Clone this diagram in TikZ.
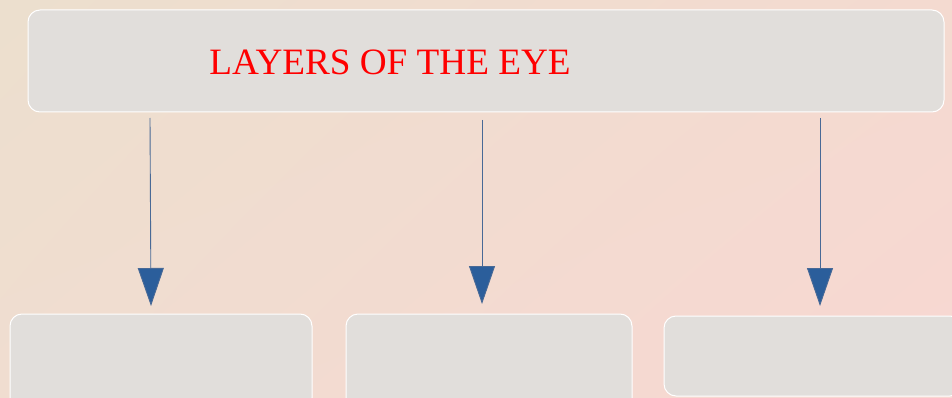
\documentclass[tikz,border=0pt]{standalone}
\usepackage{fontspec}
\setmainfont{Liberation Serif}
\usetikzlibrary{arrows.meta,shadings}
\definecolor{bgA}{RGB}{236,223,206}
\definecolor{bgB}{RGB}{244,218,208}
\definecolor{bgC}{RGB}{240,221,208}
\definecolor{bgD}{RGB}{248,215,210}
\definecolor{boxfill}{RGB}{225,222,219}
\definecolor{arrowblue}{RGB}{43,94,155}
\definecolor{linegrayblue}{RGB}{72,105,150}
\tikzset{
  panel/.style={draw=white, line width=1pt, fill=boxfill, rounded corners=12pt},
  downarrow/.style={draw=linegrayblue, line width=0.9pt, -{Triangle[length=38pt,width=26pt,fill=arrowblue]}},
  title/.style={text=red, font=\fontsize{37.2}{40}\selectfont}
}
\begin{document}
\begin{tikzpicture}[x=1pt,y=1pt]
\useasboundingbox (0,0) rectangle (952,-398);
\shade[upper left=bgA, upper right=bgB, lower left=bgC, lower right=bgD] (0,0) rectangle (952,-398);
% top box
\path[panel] (28,-10) rectangle (944,-112);
\node[title, anchor=base] (t) at (390,-75) {LAYERS OF THE EYE};
% bottom boxes
\path[panel] (10,-314) rectangle (312,-410);
\path[panel] (346,-314) rectangle (632,-410);
\path[panel] (664,-316) rectangle (962,-396);
% arrow coordinates
\coordinate (s1) at (150,-118);
\coordinate (e1) at (151,-306);
\coordinate (s2) at (482,-120);
\coordinate (e2) at (482,-304);
\coordinate (s3) at (820,-118);
\coordinate (e3) at (820,-306);
\draw[downarrow] (s1) -- (e1);
\draw[downarrow] (s2) -- (e2);
\draw[downarrow] (s3) -- (e3);
\end{tikzpicture}
\end{document}
